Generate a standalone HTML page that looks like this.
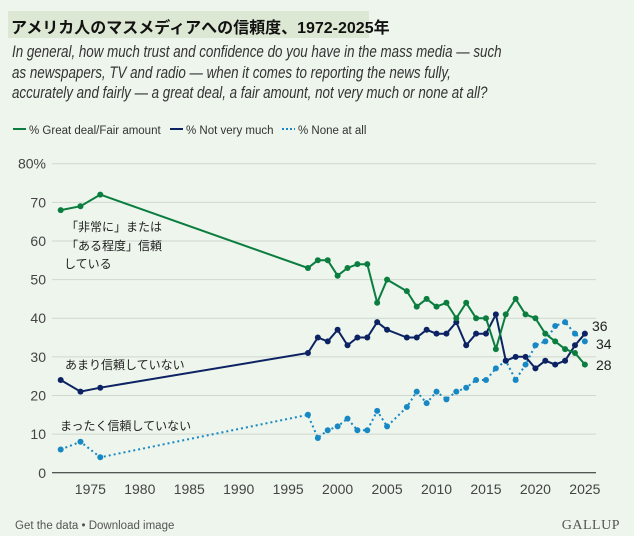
<!DOCTYPE html>
<html><head><meta charset="utf-8"><style>
body{margin:0;width:634px;height:536px;background:#edf5ec;font-family:"Liberation Sans","Noto Sans CJK JP",sans-serif;overflow:hidden;position:relative}
.t{position:absolute;left:8px;top:11px;width:361px;height:27px;background:#dce8d4}
.t span{position:absolute;left:3px;top:3px;font-size:16px;font-weight:bold;color:#111;white-space:nowrap}
.q{position:absolute;left:12px;top:42px;font-size:16.5px;font-style:italic;color:#333;line-height:20.5px;white-space:nowrap;transform:scaleX(0.81);transform-origin:0 0}
svg{position:absolute;left:0;top:0}
</style></head><body>
<div class="t"><span>アメリカ人のマスメディアへの信頼度、1972-2025年</span></div>
<div class="q">In general, how much trust and confidence do you have in the mass media — such<br>as newspapers, TV and radio — when it comes to reporting the news fully,<br>accurately and fairly — a great deal, a fair amount, not very much or none at all?</div>
<svg id="s" width="634" height="536" font-family="Liberation Sans, Noto Sans CJK JP, sans-serif"></svg>
<script>
var s=document.getElementById('s'),h='';
function X(y){return 60.7+(y-1972)*9.89}function Y(v){return 472.7-v*3.862}
for(var v=10;v<=80;v+=10){h+='<line x1="52" x2="596" y1="'+Y(v)+'" y2="'+Y(v)+'" stroke="#cfd8cf" stroke-width="1"/>';
h+='<text x="46" y="'+(Y(v)+5)+'" text-anchor="end" font-size="14" fill="#444">'+(v==80?'80%':v)+'</text>';}
h+='<line x1="52" x2="596" y1="472.7" y2="472.7" stroke="#222" stroke-width="1"/><text x="46" y="478" text-anchor="end" font-size="14" fill="#444">0</text>';
for(var yr=1975;yr<=2025;yr+=5)h+='<text x="'+X(yr)+'" y="494" text-anchor="middle" font-size="14" fill="#444">'+yr+'</text>';
var yrs=[1972,1974,1976,1997,1998,1999,2000,2001,2002,2003,2004,2005,2007,2008,2009,2010,2011,2012,2013,2014,2015,2016,2017,2018,2019,2020,2021,2022,2023,2024,2025];
var g=[68,69,72,53,55,55,51,53,54,54,44,50,47,43,45,43,44,40,44,40,40,32,41,45,41,40,36,34,32,31,28];
var n=[24,21,22,31,35,34,37,33,35,35,39,37,35,35,37,36,36,39,33,36,36,41,29,30,30,27,29,28,29,33,36];
var z=[6,8,4,15,9,11,12,14,11,11,16,12,17,21,18,21,19,21,22,24,24,27,29,24,28,33,34,38,39,36,34];
function ser(d,c,dash){var p=yrs.map(function(y,i){return X(y).toFixed(1)+','+Y(d[i]).toFixed(1)}).join(' ');
h+='<polyline points="'+p+'" fill="none" stroke="'+c+'" stroke-width="2"'+(dash?' stroke-dasharray="2 3"':'')+'/>';
yrs.forEach(function(y,i){h+='<circle cx="'+X(y)+'" cy="'+Y(d[i])+'" r="3" fill="'+c+'"/>'});}
ser(z,'#1888c4',1);ser(n,'#0c2263',0);ser(g,'#0a7d3f',0);
h+='<text x="592" y="331" font-size="14" fill="#222">36</text><text x="596" y="349" font-size="14" fill="#222">34</text><text x="596" y="370" font-size="14" fill="#222">28</text>';
h+='<g font-size="12" fill="#222"><text x="66" y="231">「非常に」または</text><text x="66" y="250">「ある程度」信頼</text><text x="64" y="268">している</text><text x="65" y="369">あまり信頼していない</text><text x="60" y="430">まったく信頼していない</text></g>';
h+='<line x1="13" x2="26" y1="129" y2="129" stroke="#0a7d3f" stroke-width="2"/><text x="29" y="134" font-size="11.5" fill="#333">% Great deal/Fair amount</text>';
h+='<line x1="170" x2="183" y1="129" y2="129" stroke="#0c2263" stroke-width="2"/><text x="186" y="134" font-size="11.5" fill="#333">% Not very much</text>';
h+='<line x1="282" x2="295" y1="129" y2="129" stroke="#1888c4" stroke-width="2" stroke-dasharray="2 2"/><text x="298" y="134" font-size="11.5" fill="#333">% None at all</text>';
h+='<text x="15" y="529" font-size="11.5" fill="#555">Get the data • Download image</text><text x="620" y="529" text-anchor="end" font-size="14" font-family="Liberation Serif,serif" fill="#555" letter-spacing="0.5">GALLUP</text>';
s.innerHTML=h;
</script>
</body></html>
